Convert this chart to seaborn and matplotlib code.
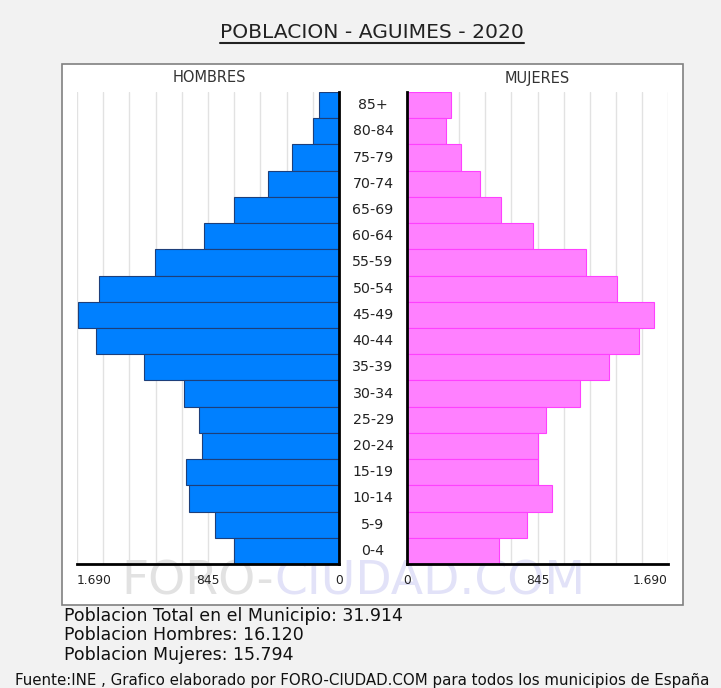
import numpy as np
import pandas as pd
import matplotlib
matplotlib.use("Agg")
import matplotlib.pyplot as plt
import matplotlib.transforms as mtransforms
from matplotlib.patches import Rectangle
from matplotlib.lines import Line2D
import seaborn as sns

sns.set_style("white")
plt.rcParams['font.family'] = ['DejaVu Sans']

# datos
edades = ["85+", "80-84", "75-79", "70-74", "65-69", "60-64", "55-59", "50-54",
          "45-49", "40-44", "35-39", "30-34", "25-29", "20-24", "15-19",
          "10-14", "5-9", "0-4"]
hombres = [130, 168, 304, 455, 680, 868, 1190, 1550, 1685, 1568, 1260, 1002,
           900, 883, 986, 968, 800, 680]
mujeres = [285, 250, 352, 472, 610, 815, 1158, 1362, 1602, 1500, 1310, 1120,
           900, 850, 848, 936, 780, 593]
escala_max = 1690
ticks_valores = [1690, 845, 0]
ticks_etiquetas = ["1.690", "845", "0"]

titulo = "POBLACION - AGUIMES - 2020"
resumen = ["Poblacion Total en el Municipio: 31.914",
           "Poblacion Hombres: 16.120",
           "Poblacion Mujeres: 15.794"]
fuente = "Fuente:INE , Grafico elaborado por FORO-CIUDAD.COM para todos los municipios de España"

df = pd.DataFrame({"edad": edades, "hombres": hombres, "mujeres": mujeres})

W, H = 721, 688
fig = plt.figure(figsize=(W / 100, H / 100), dpi=100)
fig.patch.set_facecolor("#f2f2f2")


def px(x0, y0, x1, y1):
    return [x0 / W, 1 - y1 / H, (x1 - x0) / W, (y1 - y0) / H]


def fx(x):
    return x / W


def fy(y):
    return 1 - y / H


# caja blanca
fig.patches.append(Rectangle((fx(62), fy(605)), (683 - 62) / W, (605 - 64) / H,
                             transform=fig.transFigure, facecolor="white",
                             edgecolor="#808080", lw=1.2, zorder=-1))

# marca de agua (debajo de las etiquetas)
fig.text(fx(274), fy(582), "FORO-", ha="right", va="center", fontsize=34,
         color="#e2e2e2", zorder=-0.5)
fig.text(fx(274), fy(582), "CIUDAD.COM", ha="left", va="center", fontsize=34,
         color="#e2e2f8", zorder=-0.5)

ax_h = fig.add_axes(px(77, 92, 339, 564))
ax_m = fig.add_axes(px(407, 92, 668, 564))

sns.barplot(data=df, y="edad", x="hombres", orient="h", color="#0080ff",
            edgecolor="#1d3f7a", linewidth=0.8, width=1.0, saturation=1, ax=ax_h)
sns.barplot(data=df, y="edad", x="mujeres", orient="h", color="#ff80ff",
            edgecolor="#ff40ff", linewidth=0.8, width=1.0, saturation=1, ax=ax_m)

ax_h.set_xlim(escala_max, 0)
ax_m.set_xlim(0, escala_max)

for ax in (ax_h, ax_m):
    ax.set_facecolor("none")
    ax.set_ylim(len(edades) - 0.5, -0.5)
    ax.set_xticks(np.linspace(0, escala_max, 11))
    ax.grid(axis="x", color="#e2e2e2", lw=1)
    ax.set_axisbelow(True)
    ax.tick_params(labelbottom=False, labelleft=False, length=0)
    ax.set_xlabel("")
    ax.set_ylabel("")
    ax.spines["top"].set_visible(False)
    ax.spines["bottom"].set_color("black")
    ax.spines["bottom"].set_linewidth(2)

ax_h.spines["left"].set_visible(False)
ax_h.spines["right"].set_color("black")
ax_h.spines["right"].set_linewidth(2)
ax_m.spines["right"].set_visible(False)
ax_m.spines["left"].set_color("black")
ax_m.spines["left"].set_linewidth(2)

# etiquetas del eje x
tr_h = mtransforms.blended_transform_factory(ax_h.transData, ax_h.transAxes)
tr_m = mtransforms.blended_transform_factory(ax_m.transData, ax_m.transAxes)
for v, lab in zip(ticks_valores, ticks_etiquetas):
    ha_h = "left" if v == escala_max else "center"
    ha_m = "right" if v == escala_max else "center"
    ax_h.text(v, -0.036, lab, transform=tr_h, ha=ha_h, va="center",
              fontsize=8.8, color="#222222", zorder=5, clip_on=False)
    ax_m.text(v, -0.036, lab, transform=tr_m, ha=ha_m, va="center",
              fontsize=8.8, color="#222222", zorder=5, clip_on=False)

# grupos de edad en el centro
tr_c = mtransforms.blended_transform_factory(fig.transFigure, ax_h.transData)
for i, e in enumerate(edades):
    ax_h.text(fx(373), i, e, transform=tr_c, ha="center", va="center",
              fontsize=10.2, color="#222222", clip_on=False)

fig.text(fx(209), fy(78), "HOMBRES", ha="center", va="center", fontsize=10.5,
         color="#333333")
fig.text(fx(537), fy(78), "MUJERES", ha="center", va="center", fontsize=10.5,
         color="#333333")

# titulo subrayado
t = fig.text(fx(372), fy(33), titulo, ha="center", va="center", fontsize=14.6,
             color="#222222")
fig.canvas.draw()
bb = t.get_window_extent().transformed(fig.transFigure.inverted())
fig.add_artist(Line2D([bb.x0, bb.x1], [fy(43), fy(43)], color="#222222", lw=1.5,
                      transform=fig.transFigure))

for i, linea in enumerate(resumen):
    fig.text(fx(64), fy(616 + i * 19.5), linea, ha="left", va="center",
             fontsize=12.5, color="#111111")

fig.text(fx(362), fy(680), fuente, ha="center", va="center", fontsize=10.8,
         color="#111111")

plt.savefig("out.png", dpi=100, facecolor=fig.get_facecolor())
